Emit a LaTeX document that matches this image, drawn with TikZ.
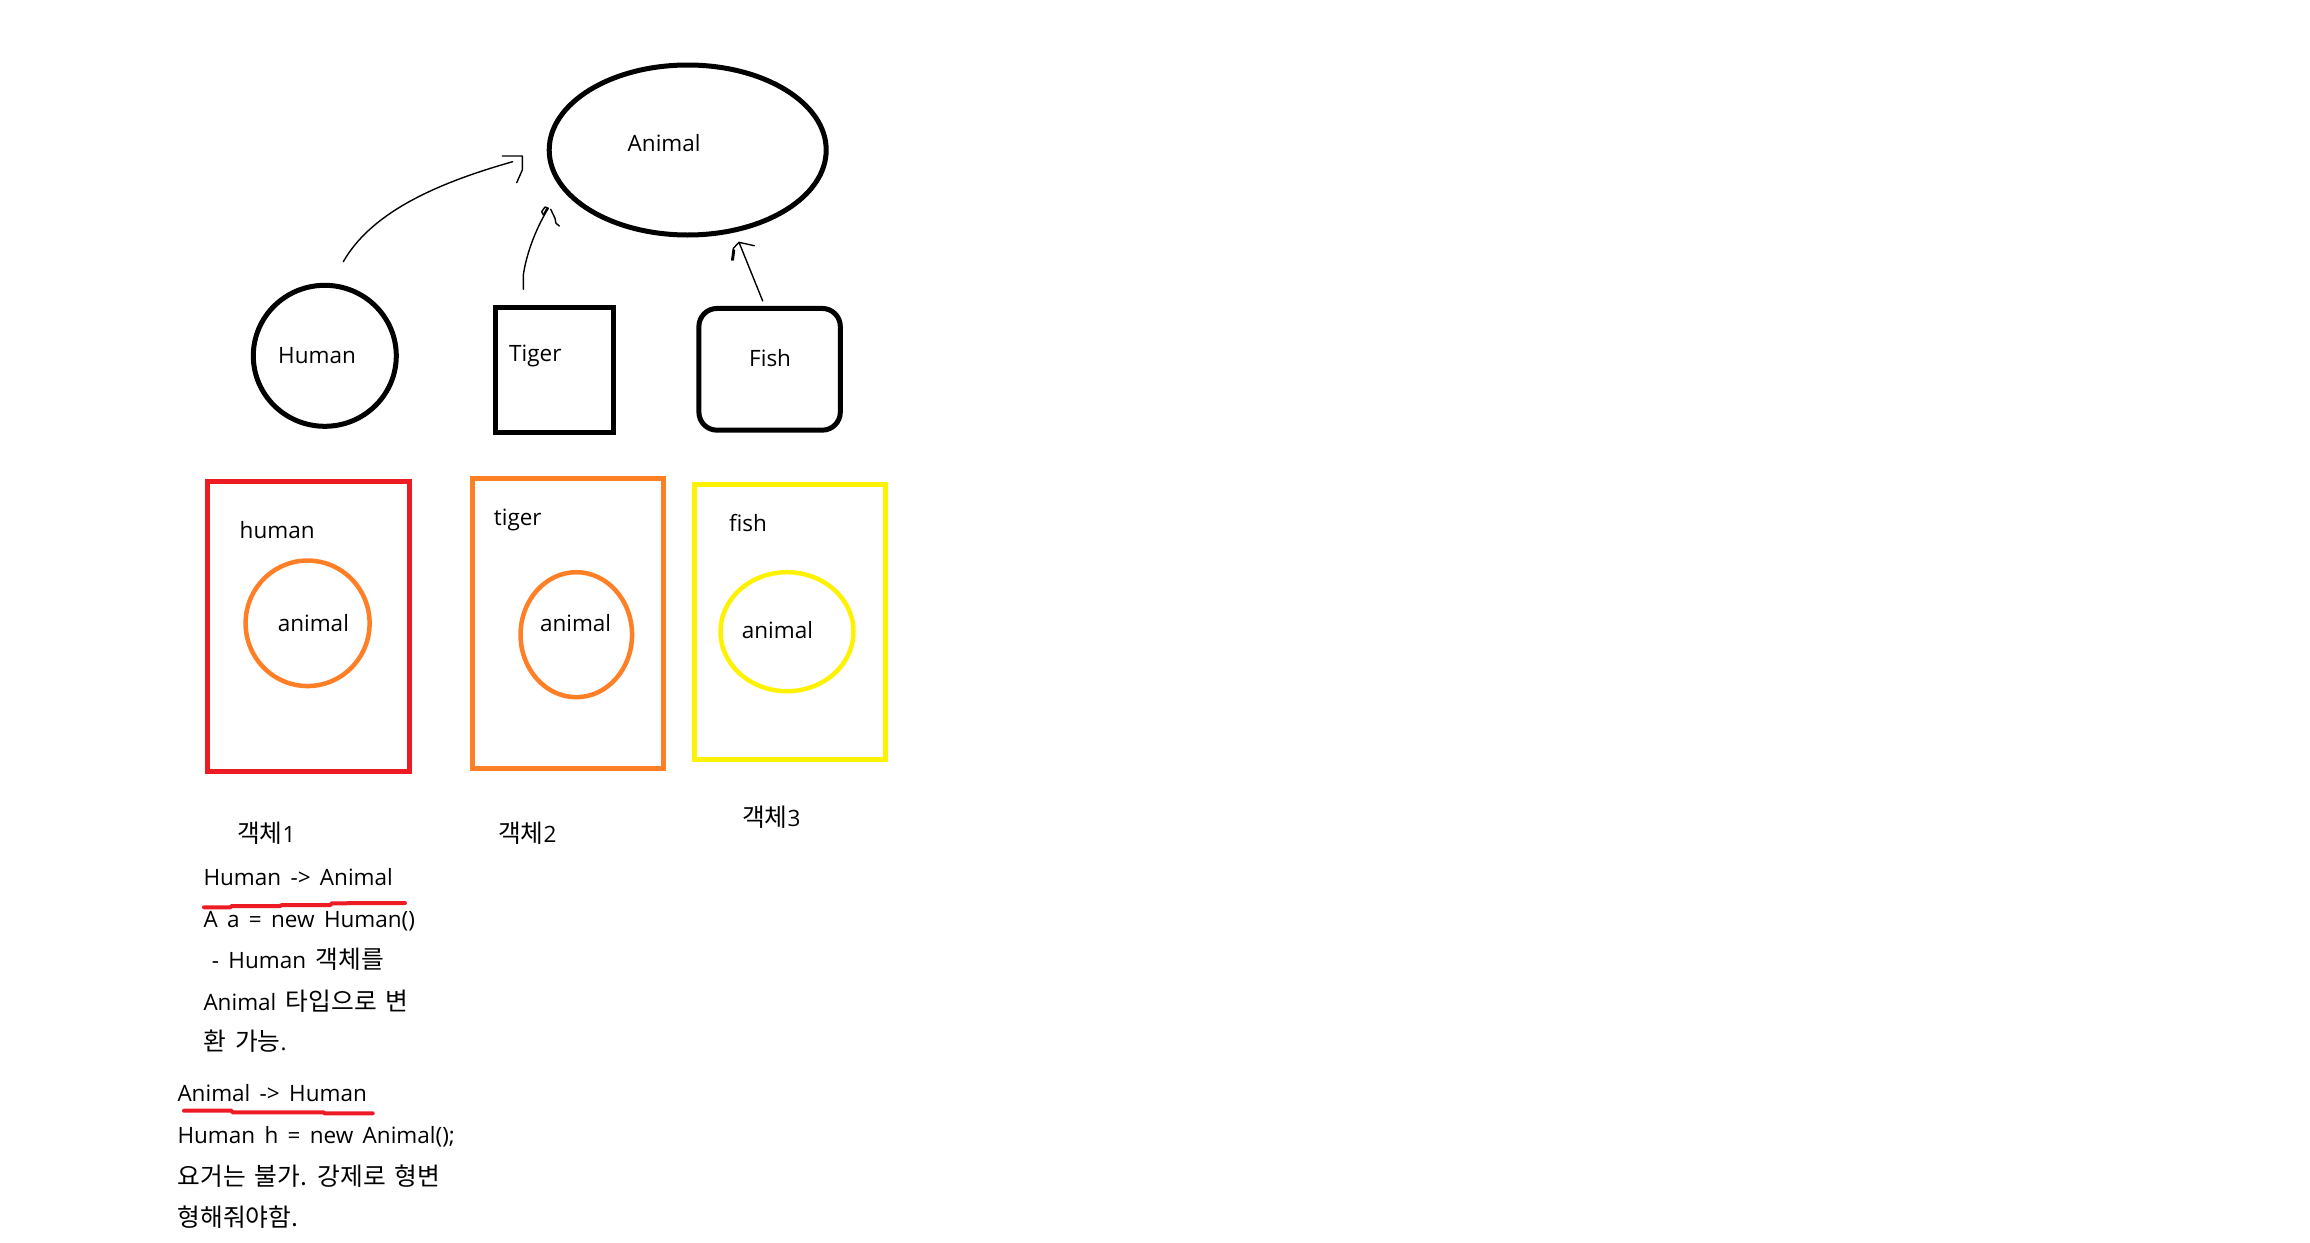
\documentclass[tikz,border=0pt]{standalone}
\usepackage{fontspec}
\setmainfont[WordSpace=1.6]{Open Sans}
\newfontfamily\kr[Scale=1.1,WordSpace=1.6]{Noto Sans CJK KR}
\usetikzlibrary{shapes.geometric}
\definecolor{pred}{HTML}{ED1C24}
\definecolor{porange}{HTML}{FF7F27}
\definecolor{pyellow}{HTML}{FFF200}
\begin{document}
\begin{tikzpicture}[x=1pt,y=-1pt,
  txt/.style={anchor=base west, inner sep=0pt, font=\fontsize{22.5}{27}\selectfont},
  bold/.style={draw=black, line width=5pt},
  oval/.style={ellipse, inner sep=0pt},
  box/.style={rectangle, inner sep=0pt, line width=5pt},
  inner/.style={ellipse, inner sep=0pt, line width=4.5pt},
  pen/.style={draw=black, line width=1.4pt, line join=round, line cap=round},
  uline/.style={draw=pred, line width=4pt, line cap=round}]
\useasboundingbox[fill=white] (0,0) rectangle (2310,1242);

% class shapes
\node[oval, bold, minimum width=277pt, minimum height=170pt] (animal) at (687.7,150) {};
\node[txt] (animalT) at (627.5,151.5) {Animal};
\node[oval, bold, minimum width=143pt, minimum height=141pt] (human) at (324.8,355.8) {};
\node[txt] (humanT) at (278,363.3) {Human};
\node[box, draw=black, minimum width=117.5pt, minimum height=125pt] (tiger) at (554.3,370) {};
\node[txt] (tigerT) at (509,361.7) {Tiger};
\node[box, draw=black, rounded corners=18pt, minimum width=141.4pt, minimum height=121.7pt] (fish) at (769.6,369.3) {};
\node[txt] (fishT) at (749,366.7) {Fish};

% hand-drawn arrows
\coordinate (a1s) at (343.3,261.7);
\coordinate (a1e) at (512.7,161.7);
\draw[pen] (a1s) .. controls (370,215) and (430,185) .. (a1e);
\draw[pen] (502.3,156) -- (522.3,156) -- (522.3,170) -- (516.7,182.7);

\coordinate (a2s) at (523.3,289.3);
\coordinate (a2e) at (548.3,208.3);
\draw[pen] (a2s) -- (523.3,275) .. controls (527,250) and (538,225) .. (a2e);
\draw[pen] (a2e) -- (545,207) -- (541.7,211.7) -- (543.3,215) -- (546.5,209);
\draw[pen] (550.7,209.3) -- (555,218.3) -- (556,223.3) -- (559.3,226);

\coordinate (a3s) at (762.7,301);
\coordinate (a3e) at (739,242.3);
\draw[pen] (a3s) -- (a3e) -- (754.3,245.7);
\draw[pen] (a3e) -- (733.3,248.3) -- (731.7,260) -- (733.3,260) -- (734.5,250);

% object boxes
\node[box, draw=pred, minimum width=202.7pt, minimum height=290pt] (obj1) at (308.6,626) {};
\node[txt] (obj1T) at (239.5,538.3) {human};
\node[inner, draw=porange, minimum width=124pt, minimum height=125.5pt] (in1) at (307.6,623.3) {};
\node[txt] (in1T) at (277.6,631.7) {animal};

\node[box, draw=porange, minimum width=191pt, minimum height=289.7pt] (obj2) at (568,623.2) {};
\node[txt] (obj2T) at (493.7,525) {tiger};
\node[inner, draw=porange, minimum width=111.5pt, minimum height=125pt] (in2) at (576.3,634.7) {};
\node[txt] (in2T) at (539.8,631.7) {animal};

\node[box, draw=pyellow, minimum width=191pt, minimum height=275pt] (obj3) at (790.3,621.7) {};
\node[txt] (obj3T) at (728.8,531.7) {fish};
\node[inner, draw=pyellow, minimum width=133pt, minimum height=119pt] (in3) at (787,631.7) {};
\node[txt] (in3T) at (741.6,638.3) {animal};

% captions
\node[txt] (cap1) at (237,842.7) {{\kr 객체}1};
\node[txt] (cap2) at (498,842.7) {{\kr 객체}2};
\node[txt] (cap3) at (742,826.7) {{\kr 객체}3};

% notes
\node[txt] (n1) at (203.3,885) {Human -> Animal};
\node[txt] (n2) at (203.3,927.3) {A a = new Human()};
\node[txt] (n3) at (211.7,968.3) {- Human {\kr 객체를}};
\node[txt] (n4) at (203.3,1010) {Animal {\kr 타입으로 변}};
\node[txt] (n5) at (203.3,1050.7) {{\kr 환 가능}.};
\node[txt] (n6) at (177.3,1101.7) {Animal -> Human};
\node[txt] (n7) at (177.3,1143.3) {Human h = new Animal();};
\node[txt] (n8) at (177.3,1185) {{\kr 요거는 불가. 강제로 형변}};
\node[txt] (n9) at (177.3,1226.7) {{\kr 형해줘야함.}};

% red underlines
\draw[uline] (204,907.3) -- (230,907.3) -- (232,906) -- (280,906) -- (282,905) -- (330,905) -- (332,903.3) -- (405,903);
\draw[uline] (184,1110.7) -- (231,1110.7) -- (233,1112.3) -- (323,1112.3) -- (325,1113.3) -- (372.7,1113.3);
\end{tikzpicture}
\end{document}
